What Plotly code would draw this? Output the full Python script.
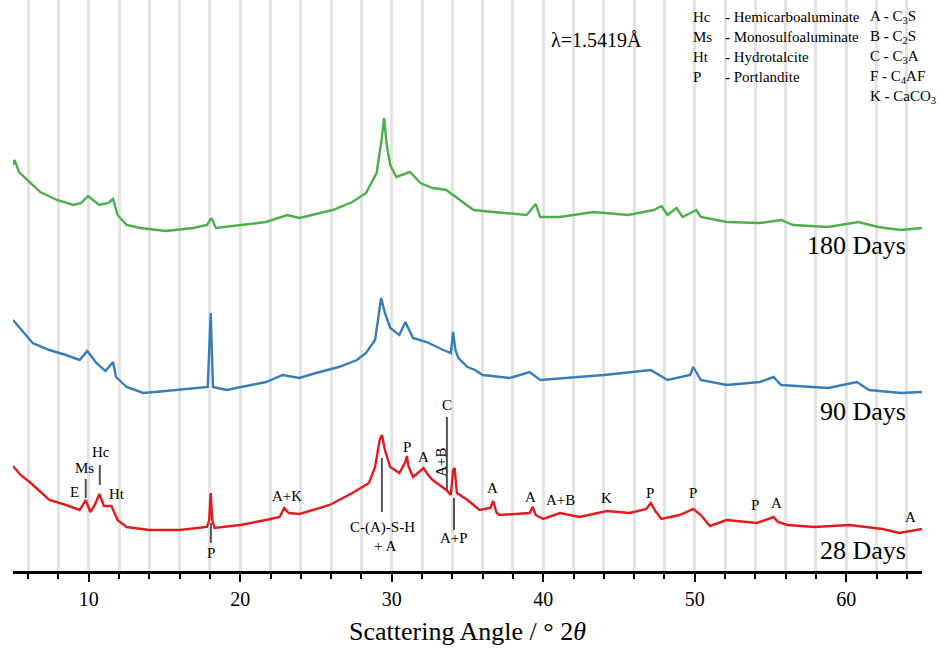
import plotly.graph_objects as go

# ---------------- data ----------------
# 28 days (red)
x28 = [5.0, 5.5, 6.1, 7.4, 8.5, 9.4, 9.8, 10.1, 10.4, 10.7, 11.0, 11.5, 11.9, 12.5, 14.0, 16.0,
       17.8, 17.95, 18.05, 18.15, 18.3, 20.0, 21.7, 22.6, 22.9, 23.2, 23.9, 25.9, 27.4, 28.5,
       28.9, 29.2, 29.35, 29.55, 29.9, 30.5, 30.9, 31.0, 31.1, 31.4, 31.8, 32.1, 32.4, 32.7,
       33.6, 33.9, 34.05, 34.15, 34.3, 35.0, 35.8, 36.5, 36.7, 36.9, 37.1, 39.1, 39.3, 39.5,
       40.0, 41.1, 42.4, 44.2, 45.7, 46.8, 47.1, 47.4, 47.8, 49.0, 49.9, 50.4, 51.0, 52.1,
       54.1, 55.2, 55.5, 56.1, 57.9, 60.2, 62.4, 63.5, 65.0]
i28 = [105, 96, 89, 71, 66, 61, 71, 59, 66, 77, 65, 65, 51, 44, 41, 41,
       44, 51, 78, 51, 43, 46, 51, 54, 63, 58, 57, 66, 78, 88,
       104, 131, 136, 121, 104, 98, 109, 115, 105, 94, 99, 103, 96, 91,
       81, 76, 101, 103, 78, 71, 61, 63, 70, 59, 56, 58, 64, 56,
       52, 58, 54, 60, 58, 62, 68, 60, 52, 56, 62, 56, 45, 51,
       48, 54, 49, 46, 44, 46, 42, 38, 42]

# 90 days (blue)
x90 = [5.0, 5.65, 6.3, 7.4, 8.5, 9.4, 9.9, 10.5, 11.1, 11.6, 11.8, 12.5, 13.6, 15.1, 17.3,
       17.85, 18.05, 18.2, 19.1, 20.6, 21.7, 22.8, 23.9, 25.0, 26.5, 27.7, 28.3, 28.9, 29.15,
       29.3, 29.55, 29.9, 30.5, 30.9, 31.4, 32.3, 33.4, 33.9, 34.05, 34.2, 34.4, 35.0, 35.5,
       36.0, 37.8, 39.1, 39.8, 42.2, 44.0, 47.1, 48.2, 49.7, 49.9, 50.4, 52.1, 54.3, 55.2,
       55.7, 58.8, 60.7, 61.5, 63.6, 65.0]
i90 = [101, 89, 78, 71, 66, 61, 70, 58, 50, 59, 44, 34, 28, 30, 33,
       34, 108, 34, 31, 36, 39, 46, 43, 48, 54, 61, 68, 81, 109,
       123, 108, 93, 86, 99, 83, 79, 71, 68, 89, 71, 63, 54, 51,
       46, 43, 49, 41, 44, 46, 51, 41, 46, 54, 41, 36, 39, 44,
       36, 33, 39, 31, 28, 29]

# 180 days (green)
x180 = [5.0, 5.1, 5.4, 6.1, 6.8, 7.9, 9.0, 9.5, 9.95, 10.7, 11.3, 11.6, 11.9, 12.5, 13.4,
        15.1, 16.9, 17.8, 18.1, 18.4, 20.0, 21.7, 23.1, 23.9, 26.1, 27.4, 28.3, 29.0, 29.3,
        29.5, 29.65, 29.9, 30.3, 31.2, 31.9, 32.7, 33.6, 34.5, 35.4, 36.7, 38.9, 39.5, 39.8,
        41.1, 43.3, 45.6, 47.3, 47.8, 48.2, 48.8, 49.2, 50.1, 50.4, 52.1, 54.3, 55.7, 56.5,
        58.8, 60.8, 62.1, 63.6, 65.0]
i180 = [106, 111, 99, 89, 79, 71, 66, 68, 75, 66, 68, 72, 56, 46, 43,
        40, 43, 46, 53, 43, 46, 49, 56, 53, 61, 69, 78, 98, 128,
        153, 128, 106, 94, 99, 88, 83, 81, 71, 61, 59, 56, 67, 54,
        54, 59, 56, 61, 65, 56, 63, 54, 61, 54, 49, 48, 51, 46,
        44, 49, 44, 41, 43]

offsets = {"28 Days": 0, "90 Days": 150, "180 Days": 300}
label_y = {"28 Days": 21, "90 Days": 160, "180 Days": 326}

# peak labels on the 28-day pattern: (text, x, y, angle)
peak_labels = [
    ("E", 9.08, 79, 0), ("Ms", 9.74, 103, 0), ("Hc", 10.79, 119, 0), ("Ht", 11.85, 77, 0),
    ("P", 18.06, 18, 0), ("A+K", 23.07, 75, 0), ("C-(A)-S-H", 29.41, 44, 0), ("+ A", 29.54, 25, 0),
    ("P", 30.99, 124, 0), ("A", 32.11, 114, 0), ("A+B", 33.24, 109, -90), ("C", 33.64, 166, 0),
    ("A+P", 34.10, 33, 0), ("A", 36.68, 83, 0), ("A", 39.19, 74, 0), ("A+B", 41.11, 71, 0),
    ("K", 44.15, 73, 0), ("P", 47.05, 78, 0), ("P", 49.89, 78, 0), ("P", 53.99, 66, 0),
    ("A", 55.37, 68, 0), ("A", 64.23, 54, 0),
]
# marker sticks: (x, y0, y1)
sticks = [(9.80, 73, 92), (10.73, 86, 106), (18.06, 28, 48), (29.35, 59, 113),
          (33.64, 81, 154), (34.11, 41, 73)]

legend_left = [("Hc", "Hemicarboaluminate"), ("Ms", "Monosulfoaluminate"),
               ("Ht", "Hydrotalcite"), ("P", "Portlandite")]
legend_right = ["A <b>-</b> C<sub>3</sub>S", "B <b>-</b> C<sub>2</sub>S", "C <b>-</b> C<sub>3</sub>A",
                "F <b>-</b> C<sub>4</sub>AF", "K <b>-</b> CaCO<sub>3</sub>"]

FONT = "Liberation Serif, Times New Roman, serif"

fig = go.Figure()
series = [("28 Days", x28, i28, "#e41a1c"), ("90 Days", x90, i90, "#377eb8"),
          ("180 Days", x180, i180, "#4daf4a")]
for name, xs, ys, col in series:
    off = offsets[name]
    fig.add_trace(go.Scatter(x=xs, y=[v + off for v in ys], mode="lines", name=name,
                             line=dict(color=col, width=2.4), showlegend=False))

ann = []
for name, xs, ys, col in series:
    ann.append(dict(x=64.05, y=label_y[name], text=name, showarrow=False, xanchor="right",
                    yanchor="middle", font=dict(family=FONT, size=26, color="black")))
for t, x, y, a in peak_labels:
    ann.append(dict(x=x, y=y, text=t, showarrow=False, textangle=a,
                    font=dict(family=FONT, size=15, color="black")))
ann.append(dict(x=43.5, y=531, text="λ=1.5419Å", showarrow=False,
                font=dict(family=FONT, size=20, color="black")))
rows_y = [554, 534, 514, 494, 474]
for (ab, nm), yy in zip(legend_left, rows_y):
    ann.append(dict(x=49.77, y=yy, text=ab, showarrow=False, xanchor="left",
                    font=dict(family=FONT, size=15, color="black")))
    ann.append(dict(x=51.85, y=yy, text="<b>-</b> " + nm, showarrow=False, xanchor="left",
                    font=dict(family=FONT, size=15, color="black")))
for t, yy in zip(legend_right, rows_y):
    ann.append(dict(x=61.45, y=yy, text=t, showarrow=False, xanchor="left",
                    font=dict(family=FONT, size=15, color="black")))

shapes = []
for x, y0, y1 in sticks:
    shapes.append(dict(type="line", x0=x, x1=x, y0=y0, y1=y1, xref="x", yref="y",
                       line=dict(color="#555555", width=2)))

fig.update_layout(
    width=938, height=650,
    margin=dict(l=13, r=16, t=0, b=79),
    paper_bgcolor="white", plot_bgcolor="white",
    annotations=ann, shapes=shapes,
    xaxis=dict(range=[5, 65], dtick=10, tick0=0, showgrid=True, gridcolor="#e3e3e3", gridwidth=2.5,
               showline=True, linecolor="black", linewidth=2.5, ticks="outside", ticklen=8,
               tickwidth=2, tickcolor="black", zeroline=False,
               minor=dict(dtick=2, tick0=0, showgrid=True, gridcolor="#e3e3e3", gridwidth=2.5,
                          ticks="outside", ticklen=5, tickwidth=1.5, tickcolor="black"),
               tickfont=dict(family=FONT, size=20, color="black"),
               title=dict(text="Scattering Angle / ° 2<i>θ</i>", standoff=14,
                          font=dict(family=FONT, size=26, color="black"))),
    yaxis=dict(range=[0, 571], visible=False, showgrid=False, zeroline=False),
)
fig.write_html("out.html")
